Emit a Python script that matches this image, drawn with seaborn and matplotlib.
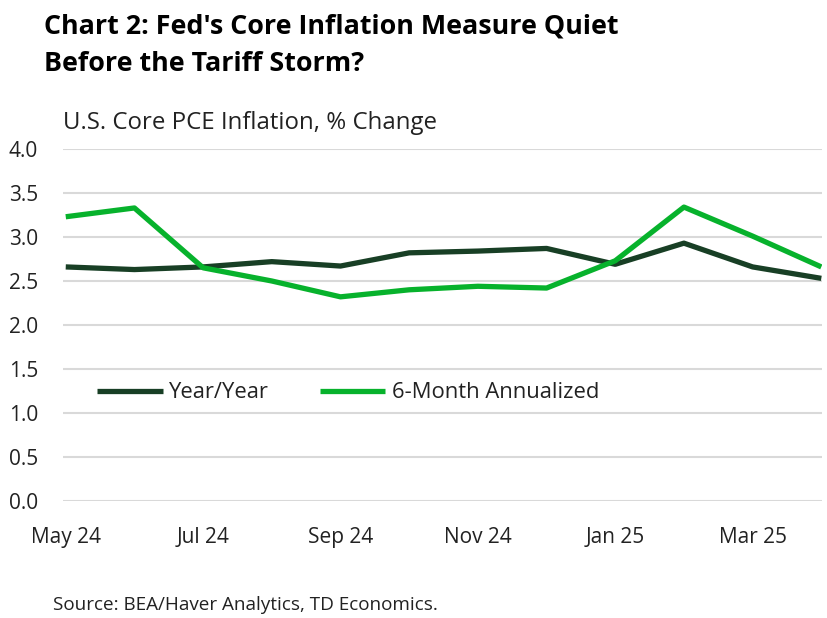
import matplotlib
matplotlib.use("Agg")
import matplotlib.pyplot as plt
import seaborn as sns
import pandas as pd

months = ["May 24", "Jun 24", "Jul 24", "Aug 24", "Sep 24", "Oct 24",
          "Nov 24", "Dec 24", "Jan 25", "Feb 25", "Mar 25", "Apr 25"]
yoy = [2.66, 2.63, 2.66, 2.72, 2.67, 2.82, 2.84, 2.87, 2.69, 2.93, 2.66, 2.53]
six_month = [3.23, 3.33, 2.65, 2.50, 2.32, 2.40, 2.44, 2.42, 2.73, 3.34, 3.01, 2.66]
series_names = ["Year/Year", "6-Month Annualized"]
tick_labels = ["May 24", "Jul 24", "Sep 24", "Nov 24", "Jan 25", "Mar 25"]
yticks = [0.0, 0.5, 1.0, 1.5, 2.0, 2.5, 3.0, 3.5, 4.0]

df = pd.DataFrame({
    "idx": list(range(len(months))) * 2,
    "value": yoy + six_month,
    "series": [series_names[0]] * len(months) + [series_names[1]] * len(months),
})

sns.set_theme(style="white")
plt.rcParams["font.family"] = ["Open Sans", "DejaVu Sans"]

fig = plt.figure(figsize=(8.27, 6.18), dpi=100)
ax = fig.add_axes([63 / 827, 1 - 501 / 618, (822 - 63) / 827, (501 - 149) / 618])

palette = {series_names[0]: "#183f25", series_names[1]: "#07b22c"}
sns.lineplot(data=df, x="idx", y="value", hue="series", palette=palette,
             linewidth=3.8, ax=ax, legend=True, solid_capstyle="butt")

ax.set_xlim(-0.04, 11.01)
ax.set_ylim(0, 4.0)
ax.set_yticks(yticks)
ax.set_yticklabels([f"{v:.1f}" for v in yticks])
ax.set_xticks([months.index(t) for t in tick_labels])
ax.set_xticklabels(tick_labels)
ax.grid(axis="y", color="#d9d9d9", linewidth=1.5)
ax.set_axisbelow(True)
for s in ax.spines.values():
    s.set_visible(False)
ax.tick_params(axis="y", length=0, pad=18, labelsize=15, labelcolor="#222222")
ax.tick_params(axis="x", length=0, pad=19, labelsize=15, labelcolor="#222222")
ax.set_xlabel("")
ax.set_ylabel("")

handles, labels = ax.get_legend_handles_labels()
ax.legend(handles, labels, ncol=2, frameon=False, fontsize=15.8,
          loc="center left", bbox_to_anchor=(77 / 827, 1 - 393 / 618),
          bbox_transform=fig.transFigure, handlelength=3.0, handletextpad=0.3,
          columnspacing=2.3, labelcolor="#222222")

fig.text(44 / 827, 1 - 13 / 618,
         "Chart 2: Fed's Core Inflation Measure Quiet\nBefore the Tariff Storm?",
         ha="left", va="top", fontsize=19.4, fontweight="bold", color="#000000",
         linespacing=1.58)
fig.text(63 / 827, 1 - 123 / 618, "U.S. Core PCE Inflation, % Change",
         ha="left", va="center", fontsize=17.3, color="#222222")
fig.text(53 / 827, 1 - 605 / 618, "Source: BEA/Haver Analytics, TD Economics.",
         ha="left", va="center", fontsize=13.6, color="#222222")

fig.savefig("out.png", dpi=100)
